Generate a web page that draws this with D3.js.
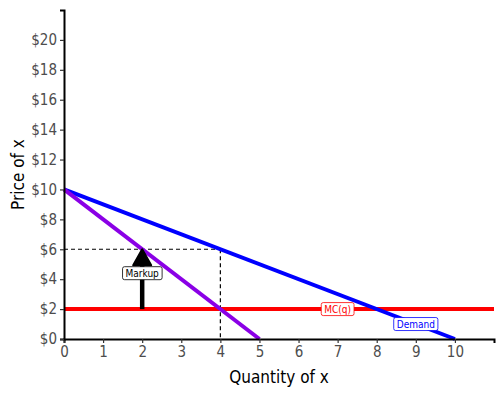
<!DOCTYPE html>
<html><head><meta charset="utf-8">
<script src="https://cdn.jsdelivr.net/npm/d3@7"></script>
<style>body{margin:0;background:#fff}text{font-family:"DejaVu Sans Condensed","DejaVu Sans",sans-serif}</style>
</head><body><svg id="c" width="504" height="396"></svg>
<script>
const demandX=[0,10], demandY=[10,0];
const mrX=[0,5], mrY=[10,0];
const mcX=[0,11], mcY=[2,2];
const xTicks=[0,1,2,3,4,5,6,7,8,9,10];
const yTicks=[0,2,4,6,8,10,12,14,16,18,20];
const qStar=4, pStar=6, mcVal=2;
const labels=[{t:"MC(q)",x:7,y:2,c:"red"},{t:"Demand",x:9,y:1,c:"blue"},{t:"Markup",x:2,y:4.4,c:"black"}];

const svg=d3.select("#c");
const x=d3.scaleLinear().domain([0,11]).range([64,494]);
const y=d3.scaleLinear().domain([0,22]).range([339,10]);

const line=d3.line().x(d=>x(d[0])).y(d=>y(d[1]));
svg.append("path").attr("d",line([[0,pStar],[qStar,pStar]])).attr("stroke","#000").attr("stroke-width",1.2).attr("stroke-dasharray","4,3").attr("fill","none");
svg.append("path").attr("d",line([[qStar,pStar],[qStar,0]])).attr("stroke","#000").attr("stroke-width",1.2).attr("stroke-dasharray","4,3").attr("fill","none");

svg.append("path").attr("d",line(mcX.map((v,i)=>[v,mcY[i]]))).attr("stroke","red").attr("stroke-width",4).attr("fill","none");
svg.append("path").attr("d",line(demandX.map((v,i)=>[v,demandY[i]]))).attr("stroke","blue").attr("stroke-width",4).attr("fill","none");
svg.append("path").attr("d",line(mrX.map((v,i)=>[v,mrY[i]]))).attr("stroke","#8a00e6").attr("stroke-width",4).attr("fill","none");

const ax=x(2), ay0=y(mcVal), ay1=y(pStar);
svg.append("line").attr("x1",ax).attr("x2",ax).attr("y1",ay0).attr("y2",ay1+14).attr("stroke","#000").attr("stroke-width",4.5);
svg.append("path").attr("d",`M${ax},${ay1} L${ax-9},${ay1+16} L${ax+9},${ay1+16} Z`).attr("fill","#000").attr("stroke","#000").attr("stroke-linejoin","round").attr("stroke-width",2);

const xa=svg.append("g").attr("transform","translate(0,339)").call(d3.axisBottom(x).tickValues(xTicks).tickSize(4).tickPadding(3));
const ya=svg.append("g").attr("transform","translate(64,0)").call(d3.axisLeft(y).tickValues(yTicks).tickFormat(d=>"$"+d).tickSize(4).tickPadding(3));
[xa,ya].forEach(g=>{g.select(".domain").attr("stroke","#000").attr("stroke-width",2);
 g.selectAll(".tick line").attr("stroke","#333").attr("stroke-width",1.2);
 g.selectAll(".tick text").attr("fill","#4d4d4d").style("font-size","15px");});

labels.forEach(l=>{
 const g=svg.append("g");
 const t=g.append("text").attr("x",x(l.x)).attr("y",y(l.y)).attr("text-anchor","middle").attr("dy","0.35em").attr("fill",l.c).style("font-size","10px").text(l.t);
 const b=t.node().getBBox();
 g.insert("rect","text").attr("x",b.x-3).attr("y",b.y-1).attr("width",b.width+6).attr("height",b.height+2).attr("rx",2).attr("fill","#fff").attr("stroke",l.c).attr("stroke-width",0.8);
});

svg.append("text").attr("x",x(5.5)).attr("y",383).attr("text-anchor","middle").style("font-size","17px").attr("fill","#000").text("Quantity of x");
svg.append("text").attr("transform",`translate(24,${y(11)}) rotate(-90)`).attr("text-anchor","middle").style("font-size","17px").attr("fill","#000").text("Price of x");
</script></body></html>
